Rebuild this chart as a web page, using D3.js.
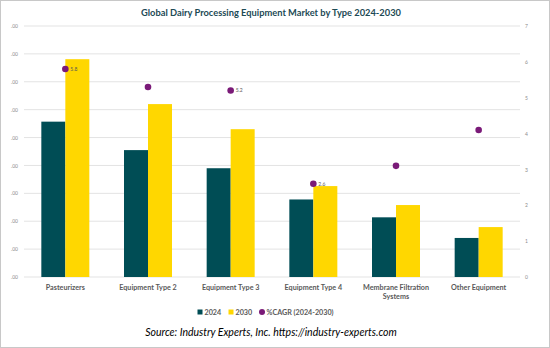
<!DOCTYPE html>
<html>
<head>
<meta charset="utf-8">
<script src="https://cdn.jsdelivr.net/npm/d3@7"></script>
<style>
  body { margin: 0; background: #fff; }
  text { font-family: Lato, "Open Sans", sans-serif; }
</style>
</head>
<body>
<div id="chart"></div>
<script>
// Chart data
var categories = ["Pasteurizers", "Equipment Type 2", "Equipment Type 3", "Equipment Type 4", "Membrane Filtration Systems", "Other Equipment"];
var values2024 = [5.57, 4.55, 3.9, 2.78, 2.14, 1.40];
var values2030 = [7.81, 6.2, 5.3, 3.26, 2.58, 1.79];
var cagr = [5.8, 5.3, 5.2, 2.6, 3.1, 4.1];
var cagrLabelShown = [true, false, true, true, false, false];
var leftTicks = [".00", ".00", ".00", ".00", ".00", ".00", ".00", ".00", ".00", ".00"];
var rightTicks = [0, 1, 2, 3, 4, 5, 6, 7];
var seriesNames = ["2024", "2030", "%CAGR (2024-2030)"];

var svgWidth = 550;
var svgHeight = 348;
var margin = { top: 26, right: 30, bottom: 71, left: 24 };
var width = svgWidth - margin.left - margin.right;
var height = svgHeight - margin.top - margin.bottom;

var colors = { c2024: "#004d55", c2030: "#ffd700", cagr: "#7a1a78" };

var svg = d3.select("#chart")
  .append("svg")
  .attr("width", svgWidth)
  .attr("height", svgHeight);

// Outer border
svg.append("rect")
  .attr("x", 0.5).attr("y", 0.5)
  .attr("width", svgWidth - 1).attr("height", svgHeight - 1)
  .attr("fill", "#fff")
  .attr("stroke", "#c8c8c8");

// Title
svg.append("text")
  .attr("x", 271)
  .attr("y", 16)
  .attr("text-anchor", "middle")
  .attr("font-size", "9.3px")
  .attr("font-weight", "bold")
  .attr("fill", "#1d4a55")
  .text("Global Dairy Processing Equipment Market by Type 2024-2030");

var chartGroup = svg.append("g")
  .attr("transform", `translate(${margin.left}, ${margin.top})`);

// Scales
var xScale = d3.scaleBand()
  .domain(categories)
  .range([0, width]);

var xInner = d3.scaleBand()
  .domain(["2024", "2030"])
  .range([xScale.bandwidth() / 2 - 24, xScale.bandwidth() / 2 + 24]);

var yLeft = d3.scaleLinear()
  .domain([0, leftTicks.length - 1])
  .range([height, 0]);

var yRight = d3.scaleLinear()
  .domain([0, 7])
  .range([height, 0]);

// Gridlines
chartGroup.append("g")
  .selectAll("line")
  .data(d3.range(leftTicks.length))
  .enter()
  .append("line")
  .attr("x1", 0)
  .attr("x2", width)
  .attr("y1", d => yLeft(d))
  .attr("y2", d => yLeft(d))
  .attr("stroke", "#e3e3e3")
  .attr("stroke-width", 1);

// Left axis
var leftAxis = d3.axisLeft(yLeft)
  .tickValues(d3.range(leftTicks.length))
  .tickFormat((d, i) => leftTicks[i])
  .tickSize(0)
  .tickPadding(6);

chartGroup.append("g")
  .call(leftAxis)
  .call(g => g.select(".domain").remove())
  .selectAll("text")
  .attr("font-size", "5px")
  .attr("fill", "#8c8c8c");

// Right axis
var rightAxis = d3.axisRight(yRight)
  .tickValues(rightTicks)
  .tickFormat(d3.format("d"))
  .tickSize(0)
  .tickPadding(5);

chartGroup.append("g")
  .attr("transform", `translate(${width}, 0)`)
  .call(rightAxis)
  .call(g => g.select(".domain").remove())
  .selectAll("text")
  .attr("font-size", "5px")
  .attr("fill", "#8c8c8c");

// Bars
var groups = chartGroup.selectAll(".cat")
  .data(categories)
  .enter()
  .append("g")
  .attr("class", "cat")
  .attr("transform", d => `translate(${xScale(d)}, 0)`);

groups.append("rect")
  .attr("x", xInner("2024"))
  .attr("width", xInner.bandwidth())
  .attr("y", (d, i) => yLeft(values2024[i]))
  .attr("height", (d, i) => height - yLeft(values2024[i]))
  .attr("fill", colors.c2024);

groups.append("rect")
  .attr("x", xInner("2030"))
  .attr("width", xInner.bandwidth())
  .attr("y", (d, i) => yLeft(values2030[i]))
  .attr("height", (d, i) => height - yLeft(values2030[i]))
  .attr("fill", colors.c2030);

// CAGR dots
groups.append("circle")
  .attr("cx", xScale.bandwidth() / 2)
  .attr("cy", (d, i) => yRight(cagr[i]))
  .attr("r", 3.3)
  .attr("fill", colors.cagr);

groups.filter((d, i) => cagrLabelShown[i])
  .append("text")
  .attr("x", xScale.bandwidth() / 2 + 5)
  .attr("y", d => yRight(cagr[categories.indexOf(d)]) + 1.8)
  .attr("font-size", "5px")
  .attr("fill", "#595959")
  .text(d => cagr[categories.indexOf(d)]);

// Category labels
var catLabels = groups.append("text")
  .attr("x", xScale.bandwidth() / 2)
  .attr("y", height + 12.5)
  .attr("text-anchor", "middle")
  .attr("font-size", "7.2px")
  .attr("font-weight", "bold")
  .attr("fill", "#595959");

catLabels.each(function(d) {
  var lines = d === "Membrane Filtration Systems" ? ["Membrane Filtration", "Systems"] : [d];
  var t = d3.select(this);
  lines.forEach(function(line, k) {
    t.append("tspan")
      .attr("x", xScale.bandwidth() / 2)
      .attr("dy", k === 0 ? 0 : 9.5)
      .text(line);
  });
});

// Legend
var legend = svg.append("g")
  .attr("transform", "translate(0, 312)");

var legendItems = [
  { name: seriesNames[0], color: colors.c2024, x: 200, shape: "rect" },
  { name: seriesNames[1], color: colors.c2030, x: 231, shape: "rect" },
  { name: seriesNames[2], color: colors.cagr, x: 262, shape: "circle" }
];

legendItems.forEach(function(item) {
  if (item.shape === "rect") {
    legend.append("rect")
      .attr("x", item.x - 2.5)
      .attr("y", -2.5)
      .attr("width", 5)
      .attr("height", 5)
      .attr("fill", item.color);
  } else {
    legend.append("circle")
      .attr("cx", item.x)
      .attr("cy", 0)
      .attr("r", 3)
      .attr("fill", item.color);
  }
  legend.append("text")
    .attr("x", item.x + 4.5)
    .attr("y", 2.5)
    .attr("font-size", "7.2px")
    .attr("font-weight", "bold")
    .attr("fill", "#595959")
    .text(item.name);
});

// Source
svg.append("text")
  .attr("x", 271)
  .attr("y", 336)
  .attr("text-anchor", "middle")
  .attr("font-size", "10.5px")
  .attr("font-style", "italic")
  .attr("fill", "#000")
  .text("Source: Industry Experts, Inc. https://industry-experts.com");
</script>
</body>
</html>
